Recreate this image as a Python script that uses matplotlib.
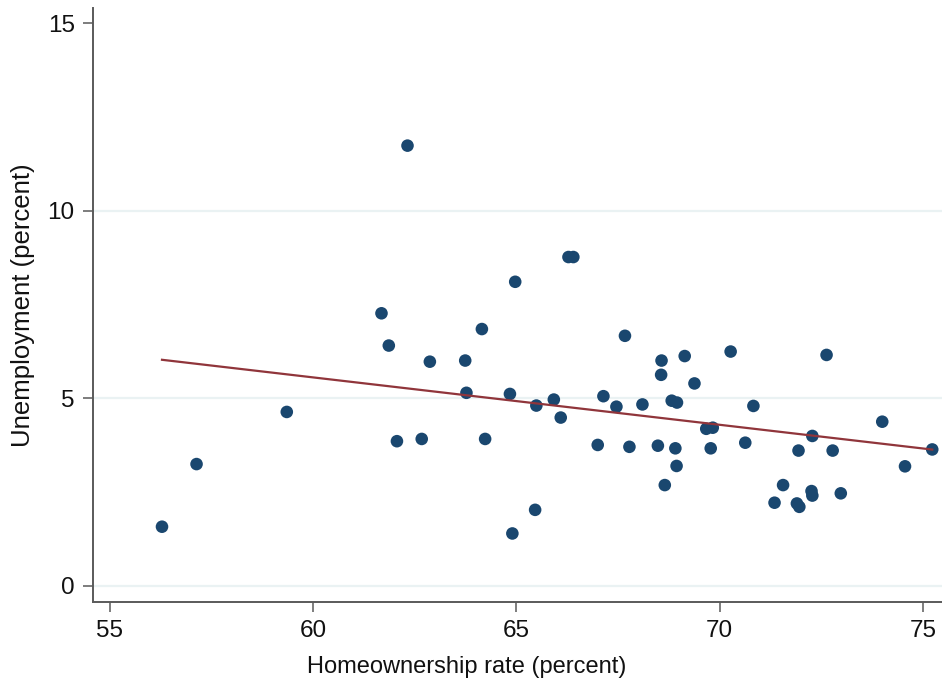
import numpy as np
import matplotlib
matplotlib.use("Agg")
import matplotlib.pyplot as plt

plt.rcParams['font.family'] = ['Liberation Sans', 'DejaVu Sans']

homeownership = [56.28, 57.13, 59.35, 61.68, 61.86, 62.06, 62.32, 62.67, 62.87, 63.74,
                 63.77, 64.15, 64.23, 64.84, 64.90, 64.97, 65.46, 65.49, 65.92, 66.09,
                 66.28, 66.40, 67.00, 67.14, 67.46, 67.67, 67.78, 68.10, 68.48, 68.57,
                 68.56, 68.65, 68.82, 68.95, 68.91, 68.94, 69.14, 69.38, 69.67, 69.83,
                 69.78, 70.27, 70.63, 70.83, 71.35, 71.56, 71.90, 71.96, 71.94, 72.28,
                 72.26, 72.28, 72.63, 72.78, 72.98, 74.00, 74.56, 75.23]
unemployment = [1.58, 3.25, 4.64, 7.27, 6.41, 3.86, 11.74, 3.92, 5.98, 6.01,
                5.15, 6.85, 3.92, 5.12, 1.40, 8.11, 2.03, 4.81, 4.97, 4.49,
                8.77, 8.77, 3.76, 5.06, 4.78, 6.67, 3.71, 4.84, 3.74, 6.01,
                5.63, 2.69, 4.94, 4.89, 3.67, 3.20, 6.13, 5.40, 4.19, 4.22,
                3.67, 6.25, 3.82, 4.80, 2.22, 2.69, 2.20, 2.11, 3.61, 4.00,
                2.53, 2.41, 6.16, 3.61, 2.47, 4.38, 3.19, 3.64]

x_ticks = [55, 60, 65, 70, 75]
y_ticks = [0, 5, 10, 15]

x = np.array(homeownership)
y = np.array(unemployment)

fig = plt.figure(figsize=(9.42, 6.82), dpi=100)
ax = fig.add_axes([0.0984, 0.1177, 0.9016, 0.8706])

for v in [0, 5, 10]:
    ax.axhline(v, color='#EAF2F3', lw=1.6, zorder=0)

ax.scatter(x, y, s=82, color='#1a476f', edgecolors='none', zorder=3)

slope, intercept = np.polyfit(x, y, 1)
xs = np.array([x.min(), x.max()])
ax.plot(xs, intercept + slope * xs, color='#90353b', lw=1.6, zorder=4)

ax.set_xlim(54.575, 75.47)
ax.set_ylim(-0.42, 15.41)
ax.set_xticks(x_ticks)
ax.set_yticks(y_ticks)
ax.set_xticklabels([str(t) for t in x_ticks])
ax.set_yticklabels([str(t) for t in y_ticks])

for s in ['top', 'right']:
    ax.spines[s].set_visible(False)
for s in ['left', 'bottom']:
    ax.spines[s].set_color('#5a5a5a')
    ax.spines[s].set_linewidth(1.4)

ax.tick_params(axis='both', direction='out', length=7, width=1.1, color='#5a5a5a',
               labelsize=17.5, labelcolor='#111111', pad=6)

ax.set_xlabel('Homeownership rate (percent)', fontsize=17, color='#111111')
ax.set_ylabel('Unemployment (percent)', fontsize=18.5, color='#111111')
ax.xaxis.set_label_coords(0.44, -0.092)
ax.yaxis.set_label_coords(-0.068, 0.50)

fig.savefig('out.png', dpi=100, facecolor='white')
